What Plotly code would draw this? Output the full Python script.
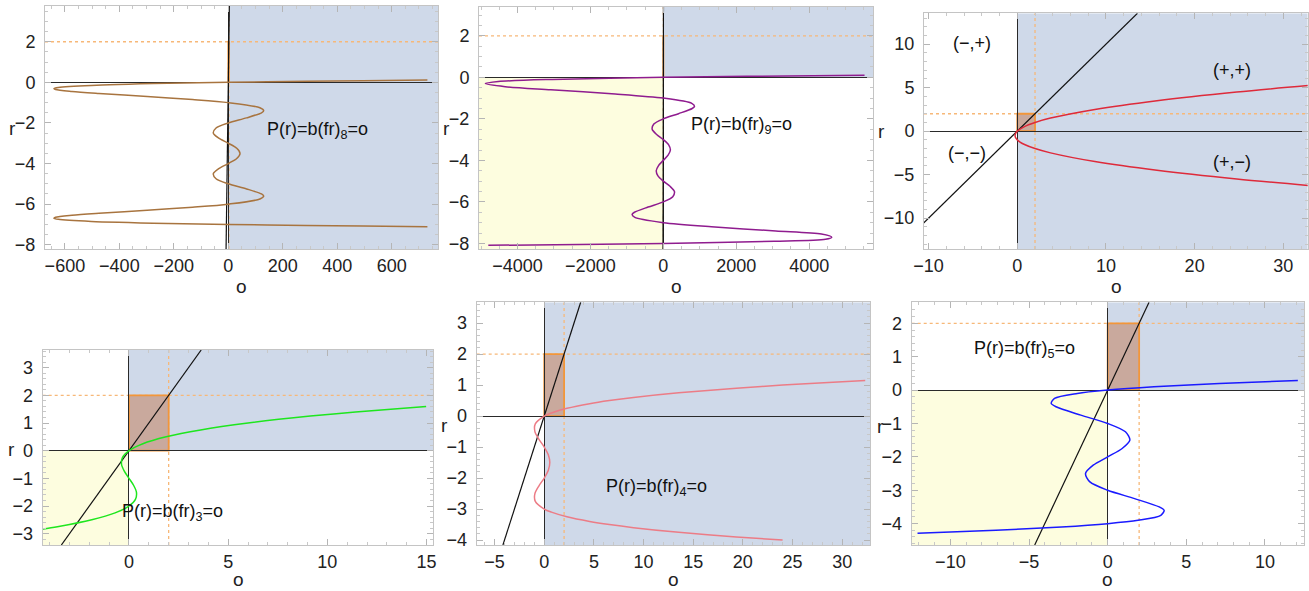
import plotly.graph_objects as go

W, H = 1309, 591
FONT = "Liberation Sans, Arial, sans-serif"

# ---------------- data ----------------
# panel A : P(r)=b(fr)_8   (o values for r values)
r8 = [-7.11, -7.08, -7.05, -7.0, -6.95, -6.85, -6.75, -6.7, -6.65, -6.55, -6.45, -6.3, -6.15,
      -6.0, -5.75, -5.6, -5.5, -5.25, -5.0, -4.75, -4.5, -4.25, -4.0, -3.75, -3.5, -3.25,
      -3.0, -2.75, -2.5, -2.25, -2.0, -1.75, -1.5, -1.4, -1.25, -1.0, -0.85, -0.7, -0.55,
      -0.45, -0.35, -0.3, -0.25, -0.15, -0.05, 0.0, 0.05, 0.08, 0.11]
o8 = [731, 494, 286, 0, -221, -503, -624, -640, -634, -574, -475, -298, -131,
      0, 116, 130, 122, 67, 0, -45, -55, -35, 0, 31, 43, 31,
      0, -35, -55, -45, 0, 67, 122, 130, 116, 0, -131, -298, -475,
      -574, -634, -640, -624, -503, -221, 0, 286, 494, 731]

# panel B : P(r)=b(fr)_9
r9 = [-8.093, -8.05, -8.0, -7.9, -7.8, -7.7, -7.55, -7.4, -7.2, -7.0, -6.75, -6.6, -6.5,
      -6.25, -6.0, -5.75, -5.5, -5.25, -5.0, -4.75, -4.5, -4.25, -4.0, -3.75, -3.5, -3.25,
      -3.0, -2.75, -2.5, -2.25, -2.0, -1.75, -1.5, -1.4, -1.25, -1.0, -0.8, -0.6, -0.45,
      -0.3, -0.2, -0.1, 0.0, 0.05, 0.104]
o9 = [-4800, -2305, 0, 3048, 4450, 4620, 4337, 3085, 1318, 0, -780, -856, -792,
      -418, 0, 260, 305, 184, 0, -147, -194, -131, 0, 131, 194, 147,
      0, -184, -305, -260, 0, 418, 792, 856, 780, 0, -1318, -3085, -4337,
      -4880, -4525, -3048, 0, 2305, 5519]

# panel C : second order
r2 = [-6.3, -5.5, -4.5, -3.5, -2.5, -2.0, -1.5, -1.25, -1.0, -0.75, -0.5, -0.25,
      0.0, 0.5, 1.0, 1.5, 2.5, 3.5, 4.5, 5.3]
o2 = [33.39, 24.75, 15.75, 8.75, 3.75, 2.0, 0.75, 0.31, 0.0, -0.19, -0.25, -0.19,
      0.0, 0.75, 2.0, 3.75, 8.75, 15.75, 24.75, 33.39]

# panel D : P(r)=b(fr)_3
r3 = [-2.9, -2.75, -2.5, -2.25, -2.0, -1.75, -1.5, -1.25, -1.0, -0.75, -0.5, -0.25,
      0.0, 0.25, 0.5, 0.75, 1.0, 1.25, 1.4, 1.6]
o3 = [-4.96, -3.61, -1.875, -0.70, 0.0, 0.33, 0.375, 0.23, 0.0, -0.23, -0.375, -0.33,
      0.0, 0.70, 1.875, 3.61, 6.0, 9.14, 11.42, 14.98]

# panel E : P(r)=b(fr)_4
r4 = [-4.0, -3.9, -3.75, -3.6, -3.5, -3.4, -3.25, -3.1, -3.0, -2.75, -2.5, -2.25, -2.0,
      -1.75, -1.5, -1.25, -1.0, -0.75, -0.5, -0.25, 0.0, 0.1, 0.25, 0.4, 0.5, 0.6, 0.75,
      0.9, 1.0, 1.15]
o4 = [24.0, 19.34, 13.54, 8.99, 6.56, 4.57, 2.29, 0.72, 0.0, -0.90, -0.94, -0.53, 0.0,
      0.41, 0.56, 0.41, 0.0, -0.53, -0.94, -0.90, 0.0, 0.72, 2.29, 4.57, 6.56, 8.99, 13.54,
      19.34, 24.0, 32.32]

# panel F : P(r)=b(fr)_5
r5 = [-4.29, -4.2, -4.1, -4.0, -3.9, -3.75, -3.6, -3.5, -3.25, -3.0, -2.75, -2.5, -2.25,
      -2.0, -1.75, -1.5, -1.25, -1.0, -0.75, -0.5, -0.4, -0.25, -0.1, 0.0, 0.1, 0.2, 0.29]
o5 = [-12.09, -7.10, -2.94, 0.0, 1.93, 3.38, 3.59, 3.28, 1.71, 0.0, -1.13, -1.41, -0.92,
      0.0, 0.92, 1.41, 1.13, 0.0, -1.71, -3.28, -3.59, -3.38, -1.93, 0.0, 2.94, 7.10, 12.09]

# tick labels
xt8 = [-600, -400, -200, 0, 200, 400, 600]
yt8 = [-8, -6, -4, -2, 0, 2]
xt9 = [-4000, -2000, 0, 2000, 4000]
yt9 = [-8, -6, -4, -2, 0, 2]
xt2 = [-10, 0, 10, 20, 30]
yt2 = [-10, -5, 0, 5, 10]
xt3 = [0, 5, 10, 15]
yt3 = [-3, -2, -1, 0, 1, 2, 3]
xt4 = [-5, 0, 5, 10, 15, 20, 25, 30]
yt4 = [-4, -3, -2, -1, 0, 1, 2, 3]
xt5 = [-10, -5, 0, 5, 10]
yt5 = [-4, -3, -2, -1, 0, 1, 2]

# text labels
lab8 = "P(r)=b(fr)<sub>8</sub>=o"
lab9 = "P(r)=b(fr)<sub>9</sub>=o"
lab3 = "P(r)=b(fr)<sub>3</sub>=o"
lab4 = "P(r)=b(fr)<sub>4</sub>=o"
lab5 = "P(r)=b(fr)<sub>5</sub>=o"
sign_labels = ["(−,+)", "(+,+)", "(−,−)", "(+,−)"]

CORNER = 2  # the r = 2 / o = 2 box

# ---------------- styling / layout ----------------
BLUE = "#cfd9e9"
YELLOW = "#fdfddf"
BOX = "#c9a99d"
ORANGE = "#f2963a"
DOT = "#f7b878"

panels = [
    dict(o=o8, r=r8, color="#a8743f", xr=[-673, 771], yr=[-8.21, 3.76], xt=xt8, yt=yt8,
         xm=50, ym=0.5, mode="half", px=(45, 438.3), py=(6, 249),
         labels=[(lab8, 326, -2.35)], ox=241.5, oy=287, rx=12, ry=128),
    dict(o=o9, r=r9, color="#8f1c8f", xr=[-5055, 5751], yr=[-8.27, 3.39], xt=xt9, yt=yt9,
         xm=500, ym=0.5, mode="quad", px=(479, 873), py=(7, 249),
         labels=[(lab9, 2158, -2.30)], ox=676, oy=287, rx=446, ry=128),
    dict(o=o2, r=r2, color="#de2a3a", xr=[-10.52, 32.75], yr=[-13.55, 13.55], xt=xt2, yt=yt2,
         xm=2, ym=1, mode="half", px=(924, 1307.7), py=(13.3, 249),
         labels=[(sign_labels[0], -5.1, 10.1), (sign_labels[1], 24.2, 7.0),
                 (sign_labels[2], -5.7, -2.5), (sign_labels[3], 24.2, -3.6)],
         ox=1116, oy=287, rx=881, ry=131.5),
    dict(o=o3, r=r3, color="#1ee61e", xr=[-4.35, 15.34], yr=[-3.41, 3.64], xt=xt3, yt=yt3,
         xm=1, ym=0.2, mode="quad", px=(42.7, 433.3), py=(350, 545),
         labels=[(lab3, 2.2, -2.25)], ox=238, oy=579, rx=11.5, ry=449),
    dict(o=o4, r=r4, color="#ec7c86", xr=[-6.8, 32.8], yr=[-4.16, 3.67], xt=xt4, yt=yt4,
         xm=1, ym=0.2, mode="half", px=(476.7, 870), py=(302.3, 545),
         labels=[(lab4, 11.35, -2.29)], ox=673, oy=579, rx=444.5, ry=425),
    dict(o=o5, r=r5, color="#1a1aff", xr=[-12.46, 12.5], yr=[-4.64, 2.63], xt=xt5, yt=yt5,
         xm=1, ym=0.2, mode="quad", px=(911.7, 1304.3), py=(302.3, 545),
         labels=[(lab5, -5.26, 1.23)], ox=1107.7, oy=579, rx=880.5, ry=426),
]

fig = go.Figure()
shapes, annotations = [], []
layout = dict(width=W, height=H, margin=dict(l=0, r=0, t=0, b=0, autoexpand=False),
              paper_bgcolor="white", plot_bgcolor="white", showlegend=False)


def axis_cfg(rng, tickvals, minor, domain, anchor, standoff):
    return dict(range=rng, domain=domain, anchor=anchor, tickmode="array", tickvals=tickvals,
                showgrid=False, zeroline=True, zerolinecolor="#2a2a2a", zerolinewidth=1.3,
                showline=True, linecolor="#c4c4c4", linewidth=1, mirror="allticks",
                ticks="inside", ticklen=6, tickwidth=1, tickcolor="#b5b5b5",
                minor=dict(tickmode="linear", tick0=0, dtick=minor, ticks="inside",
                           ticklen=3, tickcolor="#c8c8c8", showgrid=False),
                tickfont=dict(family=FONT, size=18, color="#222"),
                ticklabelstandoff=standoff, automargin=False, fixedrange=True)


for i, p in enumerate(panels, start=1):
    sx = "" if i == 1 else str(i)
    xref, yref = "x" + sx, "y" + sx
    xdom = [p["px"][0] / W, p["px"][1] / W]
    ydom = [1 - p["py"][1] / H, 1 - p["py"][0] / H]
    layout["xaxis" + sx] = axis_cfg(p["xr"], p["xt"], p["xm"], xdom, yref, 0)
    layout["yaxis" + sx] = axis_cfg(p["yr"], p["yt"], p["ym"], ydom, xref, 5)
    x0, x1 = p["xr"]
    y0, y1 = p["yr"]
    # shaded regions
    if p["mode"] == "half":
        shapes.append(dict(type="rect", xref=xref, yref=yref, x0=0, x1=x1, y0=y0, y1=y1,
                           fillcolor=BLUE, line_width=0, layer="below"))
    else:
        shapes.append(dict(type="rect", xref=xref, yref=yref, x0=0, x1=x1, y0=0, y1=y1,
                           fillcolor=BLUE, line_width=0, layer="below"))
        shapes.append(dict(type="rect", xref=xref, yref=yref, x0=x0, x1=0, y0=y0, y1=0,
                           fillcolor=YELLOW, line_width=0, layer="below"))
    # dotted guides
    shapes.append(dict(type="line", xref=xref, yref=yref, x0=x0, x1=x1, y0=CORNER, y1=CORNER,
                       line=dict(color=DOT, width=1.3, dash="dot"), layer="below"))
    shapes.append(dict(type="line", xref=xref, yref=yref, x0=CORNER, x1=CORNER, y0=y0, y1=y1,
                       line=dict(color=DOT, width=1.3, dash="dot"), layer="below"))
    # box
    shapes.append(dict(type="rect", xref=xref, yref=yref, x0=0, x1=CORNER, y0=0, y1=CORNER,
                       fillcolor=BOX, line=dict(color=ORANGE, width=1.8), layer="below"))
    # r = o line
    fig.add_trace(go.Scatter(x=[y0, y1], y=[y0, y1], mode="lines", xaxis=xref, yaxis=yref,
                             line=dict(color="#111111", width=1.2), hoverinfo="skip"))
    # curve
    fig.add_trace(go.Scatter(x=p["o"], y=p["r"], mode="lines", xaxis=xref, yaxis=yref,
                             line=dict(color=p["color"], width=1.5, shape="spline", smoothing=0.8),
                             hoverinfo="skip"))
    for txt, lx, ly in p["labels"]:
        annotations.append(dict(text=txt, x=lx, y=ly, xref=xref, yref=yref, showarrow=False,
                                xanchor="center", yanchor="middle",
                                font=dict(family=FONT, size=18, color="#111")))
    annotations.append(dict(text="o", x=p["ox"] / W, y=1 - p["oy"] / H, xref="paper", yref="paper",
                            showarrow=False, xanchor="center", yanchor="middle",
                            font=dict(family=FONT, size=19, color="#222")))
    annotations.append(dict(text="r", x=p["rx"] / W, y=1 - p["ry"] / H, xref="paper", yref="paper",
                            showarrow=False, xanchor="center", yanchor="middle",
                            font=dict(family=FONT, size=19, color="#222")))

layout["shapes"] = shapes
layout["annotations"] = annotations
fig.update_layout(**layout)
fig.write_html("out.html")
